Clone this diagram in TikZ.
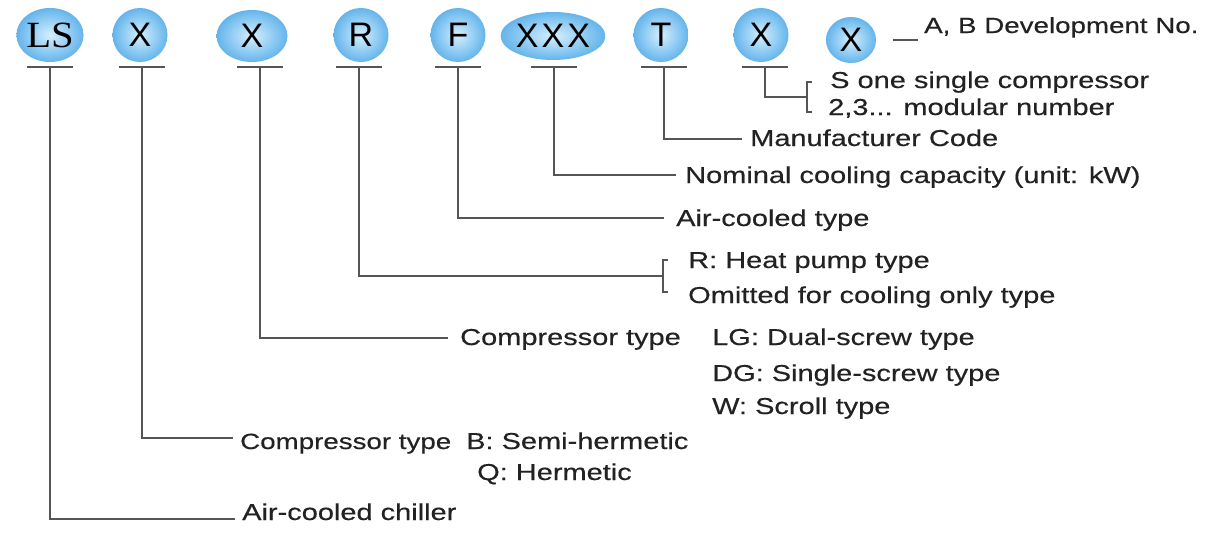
\documentclass[tikz,border=0pt]{standalone}
\usepackage{fontspec}
\setmainfont{Liberation Sans}[FakeStretch=1.26,FakeBold=0.4]
\newfontfamily\ballfont{Liberation Sans}
\newfontfamily\lsfont{Liberation Serif}[FakeStretch=1.1]
\usetikzlibrary{shapes.geometric}

\definecolor{linec}{HTML}{555555}
\definecolor{txtc}{HTML}{222222}
\definecolor{bcen}{HTML}{D6EEFC}
\definecolor{bmid}{HTML}{8CCAF3}
\definecolor{bout}{HTML}{3E9EE2}
\definecolor{brim}{HTML}{86C6F0}
\pgfdeclareradialshading{ballshade}{\pgfpoint{0bp}{0bp}}{%
  color(0bp)=(bcen); color(16bp)=(bmid); color(34bp)=(bout);
  color(45bp)=(bout); color(50bp)=(brim); color(52bp)=(brim)}

\tikzset{
  ball/.style={ellipse, shading=ballshade, inner sep=0pt, text=black,
    font=\ballfont\fontsize{34}{34}\selectfont},
  lbl/.style={anchor=base west, inner sep=0pt, text=txtc,
    font=\fontsize{23}{25}\selectfont},
  lblsmall/.style={lbl, font=\fontsize{22}{24}\selectfont},
  conn/.style={draw=linec, line width=1.6pt},
}

\begin{document}
\begin{tikzpicture}[x=1pt, y=-1pt]
\useasboundingbox (0,0) rectangle (1208,533);
\fill[white] (0,0) rectangle (1208,533);

% code balls
\node[ball, minimum width=66, minimum height=54] (ls) at (50,35) {\lsfont\fontsize{37}{37}\selectfont LS};
\node[ball, minimum width=55, minimum height=54] (x1) at (140,35) {X};
\node[ball, minimum width=71, minimum height=52] (x2) at (252,36) {X};
\node[ball, minimum width=55, minimum height=54] (r) at (361,35) {R};
\node[ball, minimum width=55, minimum height=54] (f) at (458,35) {F};
\node[ball, minimum width=101, minimum height=48] (xxx) at (553,36) {X\kern3pt X\kern3pt X};
\node[ball, minimum width=55, minimum height=54] (t) at (661,35) {T};
\node[ball, minimum width=55, minimum height=54] (x3) at (761,35) {X};
\node[ball, minimum width=50, minimum height=46] (x4) at (851,40) {X};

% underline centres
\coordinate (lsU) at (50,67);
\coordinate (x1U) at (142,67);
\coordinate (x2U) at (260,67);
\coordinate (rU) at (359,67);
\coordinate (fU) at (458,67);
\coordinate (xxxU) at (554,67);
\coordinate (tU) at (664,67);
\coordinate (x3U) at (765,67);
\foreach \u in {lsU,x1U,x2U,rU,fU,xxxU,tU,x3U}
  \draw[conn] ([xshift=-23pt]\u) -- ([xshift=23pt]\u);

% labels
\node[lblsmall] (dev) at (924,33) {A, B Development No.};
\node[lbl] (s1) at (830,88) {S one single compressor};
\node[lbl] (s2) at (828,115) {2,3... modular number};
\node[lbl] (manu) at (750,146) {Manufacturer Code};
\node[lbl] (nom) at (685,183) {Nominal cooling capacity (unit: kW)};
\node[lbl] (act) at (676,226) {Air-cooled type};
\node[lbl] (hp) at (688,268) {R: Heat pump type};
\node[lbl] (om) at (688,303) {Omitted for cooling only type};
\node[lbl] (ct2) at (460,345) {Compressor type};
\node[lbl] (lg) at (712,345) {LG: Dual-screw type};
\node[lbl] (dg) at (712,381) {DG: Single-screw type};
\node[lbl] (w) at (712,414) {W: Scroll type};
\node[lblsmall] (ct1) at (240,449) {Compressor type};
\node[lbl] (b) at (466,449) {B: Semi-hermetic};
\node[lbl] (q) at (477,480) {Q: Hermetic};
\node[lbl] (chil) at (242,520) {Air-cooled chiller};

% connector ends
\coordinate (lsE) at (235,519);
\coordinate (x1E) at (233,438);
\coordinate (x2E) at (448,338);
\coordinate (rE) at (663,276);
\coordinate (fE) at (664,218);
\coordinate (xxxE) at (676,175);
\coordinate (tE) at (742,139);
\coordinate (x3E) at (807,97);

\draw[conn] (lsU) |- (lsE);
\draw[conn] (x1U) |- (x1E);
\draw[conn] (x2U) |- (x2E);
\draw[conn] (rU) |- (rE);
\draw[conn] (fU) |- (fE);
\draw[conn] (xxxU) |- (xxxE);
\draw[conn] (tU) |- (tE);
\draw[conn] (x3U) |- (x3E);

% brackets
\coordinate (rbT) at (663,260);
\coordinate (rbB) at (663,292);
\draw[conn] ([xshift=5pt]rbT) -- (rbT) -- (rbB) -- ([xshift=5pt]rbB);
\coordinate (xbT) at (807,82);
\coordinate (xbB) at (807,112);
\draw[conn] ([xshift=5pt]xbT) -- (xbT) -- (xbB) -- ([xshift=5pt]xbB);

% development number dash
\draw[conn] ([xshift=17pt]x4.east) -- ([xshift=42pt]x4.east);
\end{tikzpicture}
\end{document}
